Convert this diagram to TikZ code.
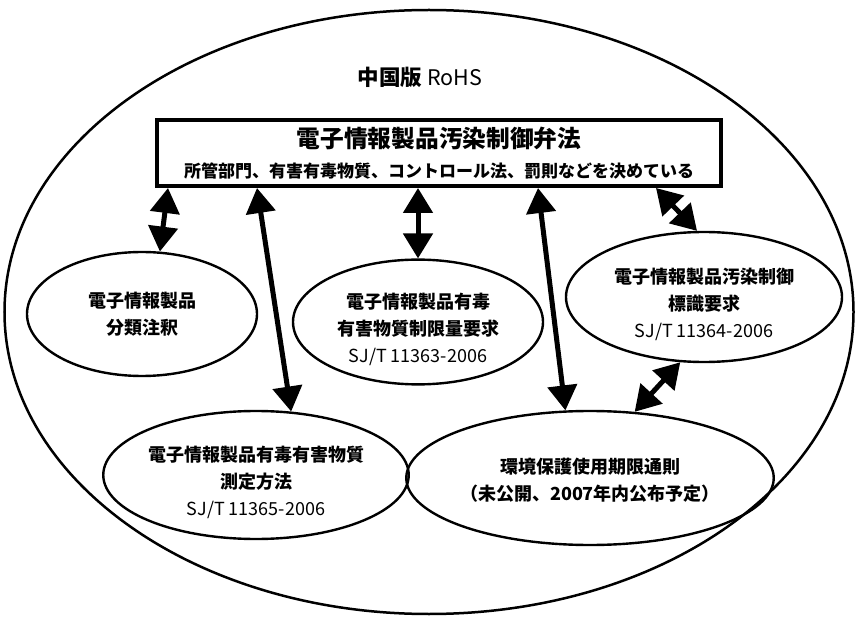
\documentclass[tikz,border=0pt]{standalone}
\usepackage{fontspec}
\setmainfont{Noto Sans CJK JP}
\usetikzlibrary{shapes.geometric,arrows.meta}
\newcommand{\topgap}{\rule{0pt}{31pt}}
\begin{document}
\begin{tikzpicture}[x=1pt,y=-1pt,
  ell/.style={ellipse, draw, line width=2.4pt, inner sep=0pt, align=center,
    font=\fontsize{18}{27}\selectfont\bfseries},
  dbl/.style={line width=5pt,
    {Triangle[width=29pt,length=25pt]}-{Triangle[width=29pt,length=25pt]}},
]
\useasboundingbox (0,0) rectangle (857,620);
\node[ellipse, draw, line width=2.5pt, minimum width=849pt, minimum height=604pt] (outer) at (429,312) {};
\node[font=\fontsize{21.5}{24}\selectfont] (title) at (420,77) {{\bfseries 中国版} RoHS};
\node[draw, line width=4pt, minimum width=564pt, minimum height=66pt, inner sep=0pt,
  align=center, font=\fontsize{17}{30}\selectfont\bfseries] (law) at (439,153)
  {{\fontsize{23.7}{28}\selectfont 電子情報製品汚染制御弁法}\\所管部門、有害有毒物質、コントロール法、罰則などを決めている};
\node[ell, minimum width=230pt, minimum height=124pt] (e1) at (142,314) {電子情報製品\\分類注釈};
\node[ell, minimum width=250pt, minimum height=120pt] (e2) at (418,322) {\topgap 電子情報製品有毒\\有害物質制限量要求\\\mdseries SJ/T 11363-2006};
\node[ell, minimum width=276pt, minimum height=130pt] (e3) at (704,297) {\topgap 電子情報製品汚染制御\\標識要求\\\mdseries SJ/T 11364-2006};
\node[ell, minimum width=296pt, minimum height=128pt] (e4) at (256,475) {\topgap 電子情報製品有毒有害物質\\測定方法\\\mdseries SJ/T 11365-2006};
\node[ell, minimum width=344pt, minimum height=134pt] (e5) at (590,478) {\rule{0pt}{20pt}環境保護使用期限通則\\（未公開、2007年内公布予定）};
\draw[dbl] ([xshift=13pt]law.south west) -- (e1.74);
\draw[dbl] ([xshift=102pt]law.south west) -- (e4.61);
\draw[dbl] (law.south -| e2.north) -- (e2.north);
\draw[dbl] ([xshift=383pt]law.south west) -- (e5.110);
\draw[dbl] ([xshift=501pt]law.south west) -- (e3.96);
\draw[dbl] (e3.250) -- (e5.56);
\end{tikzpicture}
\end{document}
